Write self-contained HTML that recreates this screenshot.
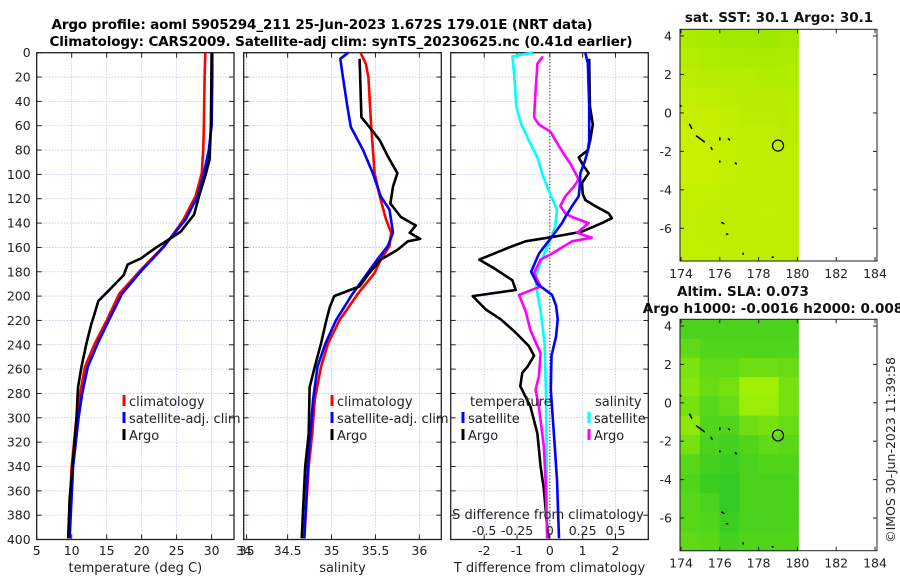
<!DOCTYPE html>
<html><head><meta charset="utf-8"><style>
html,body{margin:0;padding:0;background:#fff}
svg{display:block;font-family:"DejaVu Sans","Liberation Sans",sans-serif}
</style></head><body>
<svg id="fig" width="900" height="580" viewBox="0 0 900 580" xmlns="http://www.w3.org/2000/svg">
<rect width="900" height="580" fill="#fff"/>
<text x="322" y="29" text-anchor="middle" font-size="13.5" font-weight="bold" textLength="541">Argo profile: aoml 5905294_211 25-Jun-2023 1.672S 179.01E (NRT data)</text>
<text x="341" y="46" text-anchor="middle" font-size="13.5" font-weight="bold" textLength="583">Climatology: CARS2009. Satellite-adj clim: synTS_20230625.nc (0.41d earlier)</text>
<g id="layer"></g>
</svg>
<script>
// ---------- data ----------
const depthTicks=[0,20,40,60,80,100,120,140,160,180,200,220,240,260,280,300,320,340,360,380,400];
const tempTicks=[5,10,15,20,25,30,35];
const salTicks=[34.5,35,35.5,36];
const salTickLabels=["34","34.5","35","35.5","36"];
const tdiffTicks=[-2,-1,0,1,2];
const sdiffTickVals=[-0.5,-0.25,0,0.25,0.5];
const sdiffTickLabels=["-0.5","-0.25","0","0.25","0.5"];

const climTDepth=[0,20,60,80,99,118,137,151,160,179,198,220,239,258,280,299,340,399];
const climTVal=[29.1,29.0,28.9,28.8,28.6,27.7,26,24.3,23,19.8,16.8,15,13.3,11.9,11.2,10.7,10,9.5];
const satTDepth=[0,20,60,80,99,118,137,151,160,179,198,220,239,258,280,299,340,399];
const satTVal=[30.1,30.1,30.0,29.6,28.9,28,26.3,24.3,23.1,20.0,17.2,15.3,13.7,12.3,11.5,11.0,10.2,9.7];
const argoTDepth=[0,60,88,99,118,133,147,156,160,169,174,183,196,204,212,223,239,258,275,299,334,367,399];
const argoTVal=[30.0,29.9,29.7,29.2,28.2,27.5,25.6,23.2,22.1,19.9,18.0,17.4,15.2,13.8,13.4,12.8,12.1,11.4,10.9,10.7,10.2,9.7,9.5];

const climSDepth=[0,9,20,58,99,118,137,148,159,170,181,198,220,239,258,285,313,340,399];
const climSVal=[35.33,35.39,35.42,35.45,35.49,35.55,35.62,35.68,35.66,35.56,35.49,35.3,35.09,34.96,34.88,34.81,34.78,34.74,34.69];
const satSDepth=[0,5,20,44,61,80,99,118,129,148,159,170,181,198,220,239,258,285,313,340,399];
const satSVal=[35.19,35.1,35.13,35.18,35.22,35.36,35.47,35.56,35.66,35.7,35.64,35.52,35.41,35.24,35.05,34.93,34.84,34.79,34.76,34.73,34.69];
const argoSDepth=[5,53,61,72,85,99,110,124,135,142,148,153,155,162,170,181,192,200,209,220,239,258,275,313,340,399];
const argoSVal=[35.32,35.34,35.43,35.55,35.64,35.75,35.7,35.67,35.79,35.96,35.89,36.01,35.87,35.75,35.56,35.43,35.32,35.03,34.98,34.94,34.88,34.81,34.75,34.74,34.7,34.66];

const dTSatDepth=[0,9,44,72,80,88,99,110,118,126,135,140,151,165,180,190,199,208,219,233,249,277,324,351,399];
const dTSatVal=[1.08,1.16,1.2,1.2,1.16,1.08,0.93,0.91,0.88,0.68,0.47,0.37,0.07,-0.33,-0.57,-0.38,0.07,0.19,0.24,0.19,0.05,0.03,0.15,0.22,0.28];
const dTArgoDepth=[5,44,59,72,80,86,91,99,107,116,121,126,132,136,140,147,151,155,160,170,178,187,195,200,211,219,230,241,249,258,263,274,291,313,340,359,399];
const dTArgoVal=[1.2,1.22,1.31,1.23,1.16,0.88,0.98,1.18,0.98,1.0,1.08,1.38,1.79,1.89,1.59,0.98,0.17,-0.74,-1.24,-2.15,-1.65,-1.14,-1.04,-2.35,-1.95,-1.5,-1.04,-0.64,-0.48,-0.68,-0.84,-0.9,-0.59,-0.38,-0.28,-0.18,-0.05];
const dSSatDepth=[0,3,20,44,58,72,86,99,113,129,143,153,170,184,198,212,239,277,324,399];
const dSSatVal=[-0.13,-0.285,-0.27,-0.255,-0.22,-0.16,-0.095,-0.06,-0.01,0.055,0.04,0.005,-0.06,-0.11,-0.095,-0.07,-0.04,-0.03,-0.025,-0.02];
const dSArgoDepth=[3,9,31,53,59,65,72,83,91,99,104,110,118,126,132,135,140,148,152,155,165,170,181,192,199,212,228,247,266,277,291,324,351,399];
const dSArgoVal=[-0.053,-0.095,-0.108,-0.12,-0.083,0.005,0.043,0.105,0.155,0.195,0.22,0.183,0.118,0.08,0.118,0.17,0.295,0.208,0.32,0.17,0.018,-0.07,-0.12,-0.07,-0.235,-0.185,-0.148,-0.07,-0.083,-0.108,-0.083,-0.045,-0.033,-0.02];

const lonTicks=[174,176,178,180,182,184];
const latTicks=[4,2,0,-2,-4,-6];
const sstGrid=[
[0.30,0.25,0.15,0.15,0.10,0.20],
[0.45,0.40,0.35,0.30,0.30,0.35],
[0.55,0.50,0.45,0.45,0.40,0.40],
[0.65,0.60,0.55,0.50,0.50,0.45],
[0.70,0.70,0.60,0.55,0.55,0.50],
[0.75,0.70,0.65,0.60,0.60,0.55],
[0.80,0.75,0.65,0.60,0.60,0.60],
[0.75,0.75,0.65,0.60,0.60,0.60],
[0.70,0.65,0.60,0.60,0.60,0.60],
[0.65,0.60,0.60,0.60,0.65,0.60],
[0.65,0.60,0.60,0.60,0.60,0.60],
[0.65,0.65,0.60,0.60,0.60,0.60]];
const slaGrid=[
[0.30,0.30,0.30,0.30,0.30,0.30],
[0.45,0.35,0.35,0.35,0.35,0.35],
[0.65,0.45,0.45,0.55,0.55,0.50],
[0.70,0.50,0.60,0.90,0.90,0.60],
[0.60,0.40,0.50,0.85,0.85,0.60],
[0.75,0.35,0.35,0.55,0.60,0.50],
[0.60,0.30,0.25,0.35,0.45,0.40],
[0.40,0.25,0.20,0.30,0.35,0.35],
[0.35,0.20,0.15,0.30,0.30,0.30],
[0.40,0.30,0.15,0.30,0.30,0.30],
[0.40,0.35,0.20,0.30,0.30,0.30],
[0.45,0.40,0.25,0.35,0.35,0.35]];
const argoLon=179.0, argoLat=-1.7;

// ---------- drawing ----------
const NS="http://www.w3.org/2000/svg";
const L=document.getElementById('layer');
function mk(tag,attrs,parent){const e=document.createElementNS(NS,tag);for(const k in attrs)e.setAttribute(k,attrs[k]);(parent||L).appendChild(e);return e;}
const Y0=52.7,Y1=539.5;
const yD=d=>Y0+(d/400)*(Y1-Y0);
const gridStyle={stroke:"#b8c4e8","stroke-width":0.8,"stroke-dasharray":"1.5,1.5"};

function panel(name,x0,x1,xmin,xmax,xt,xtl,showY,xlabel){
  const xs=v=>x0+(v-xmin)/(xmax-xmin)*(x1-x0);
  const g=mk('g',{});
  
  
  depthTicks.forEach(d=>{
    const gl=mk('line',Object.assign({x1:x0,x2:x1,y1:yD(d),y2:yD(d)},gridStyle),g);
    
    
    mk('line',{x1:x0,x2:x0+5,y1:yD(d),y2:yD(d),stroke:"#222"},g);
    mk('line',{x1:x1-5,x2:x1,y1:yD(d),y2:yD(d),stroke:"#222"},g);
    if(showY){const t=mk('text',{x:x0-6,y:yD(d)+4.5,"text-anchor":"end","font-size":12.5,fill:"#222"},g);t.textContent=d;
      }
  });
  xt.forEach((v,i)=>{
    const X=xs(v);
    const gl=mk('line',Object.assign({x1:X,x2:X,y1:Y0,y2:Y1},gridStyle),g);
    
    
    mk('line',{x1:X,x2:X,y1:Y1-5,y2:Y1,stroke:"#222"},g);
    mk('line',{x1:X,x2:X,y1:Y0,y2:Y0+5,stroke:"#222"},g);
    if(xtl){const t=mk('text',{x:X,y:555,"text-anchor":"middle","font-size":12.5,fill:"#222"},g);t.textContent=xtl[i];
      }
  });
  const fr=mk('rect',{x:x0,y:Y0,width:x1-x0,height:Y1-Y0,fill:"none",stroke:"#222","stroke-width":1.3},g);
  
  if(xlabel){const t=mk('text',{x:(x0+x1)/2,y:572,"text-anchor":"middle","font-size":13,fill:"#222"},g);t.textContent=xlabel;
    }
  return {g,xs};
}
function curve(p,depths,vals,color,name,w,scale){
  const pts=depths.map((d,i)=>p.xs(vals[i]*(scale||1)).toFixed(1)+","+yD(d).toFixed(1)).join(" ");
  const e=mk('polyline',{points:pts,fill:"none",stroke:color,"stroke-width":w||2.6,"stroke-linejoin":"round"},p.g);
  
  
}
function legendEntry(g,x,y,color,label){
  const m=mk('rect',{x:x-1.5,y:y-11,width:3,height:11,fill:color},g);
  
  const t=mk('text',{x:x+5,y:y,"font-size":13,fill:"#222"},g);t.textContent=label;
  
}

// Panel 1 temperature
const p1=panel('temperature-panel',36.7,234,5,33.2,tempTicks,tempTicks.map(String),true,'temperature (deg C)');
curve(p1,climTDepth,climTVal,'#f00','climatology-temperature-line');
curve(p1,satTDepth,satTVal,'#00f','satellite-temperature-line');
curve(p1,argoTDepth,argoTVal,'#000','argo-temperature-line');
legendEntry(p1.g,124,406,'#f00','climatology');
legendEntry(p1.g,124,423,'#00f','satellite-adj. clim');
legendEntry(p1.g,124,440,'#000','Argo');

// Panel 2 salinity
const p2=panel('salinity-panel',243.7,441.3,34,36.25,[34].concat(salTicks),salTickLabels,false,'salinity');
curve(p2,climSDepth,climSVal,'#f00','climatology-salinity-line');
curve(p2,satSDepth,satSVal,'#00f','satellite-salinity-line');
curve(p2,argoSDepth,argoSVal,'#000','argo-salinity-line');
legendEntry(p2.g,332,406,'#f00','climatology');
legendEntry(p2.g,332,423,'#00f','satellite-adj. clim');
legendEntry(p2.g,332,440,'#000','Argo');

// Panel 3 differences
const p3=panel('difference-panel',450.7,648.3,-3.02,3.0,tdiffTicks,tdiffTicks.map(String),false,'T difference from climatology');
const zl=mk('line',{x1:p3.xs(0),x2:p3.xs(0),y1:Y0,y2:Y1,stroke:"#5a4a2a","stroke-width":1.2,"stroke-dasharray":"1.2,2"},p3.g);

curve(p3,dSSatDepth,dSSatVal,'#0ff','salinity-satellite-diff-line',2.6,4);
curve(p3,dTArgoDepth,dTArgoVal,'#000','temperature-argo-diff-line');
curve(p3,dSArgoDepth,dSArgoVal,'#f0f','salinity-argo-diff-line',2.6,4);
curve(p3,dTSatDepth,dTSatVal,'#00f','temperature-satellite-diff-line');
{const t=mk('text',{x:470,y:406,"font-size":13,fill:"#222"},p3.g);t.textContent='temperature';}
{const t=mk('text',{x:595,y:406,"font-size":13,fill:"#222"},p3.g);t.textContent='salinity';}
legendEntry(p3.g,463,423,'#00f','satellite');
legendEntry(p3.g,463,440,'#000','Argo');
legendEntry(p3.g,589,423,'#0ff','satellite');
legendEntry(p3.g,589,440,'#f0f','Argo');
{const t=mk('text',{x:548,y:519,"text-anchor":"middle","font-size":13,fill:"#222"},p3.g);t.textContent='S difference from climatology';}
sdiffTickVals.forEach((v,i)=>{const t=mk('text',{x:p3.xs(v*4),y:535,"text-anchor":"middle","font-size":12.5,fill:"#222"},p3.g);t.textContent=sdiffTickLabels[i];
  });

// ---------- maps ----------
function lerp(a,b,t){return Math.round(a+(b-a)*t);}
function map(name,top,bot,lat4y,latm6y,grid,c0,c1,title,titleY){
  const ax0=680,ax1=877;
  const lonX=lon=>681+(lon-174)*19.4;
  const latY=lat=>lat4y+(4-lat)*(latm6y-lat4y)/10;
  const g=mk('g',{});
  
  
  const rows=grid.length,cols=grid[0].length;
  const latTop=4-(top-lat4y)/((latm6y-lat4y)/10), latBot=4-(bot-lat4y)/((latm6y-lat4y)/10);
  const lonL=173.95,lonR=180.05;
  for(let r=0;r<rows;r++)for(let c=0;c<cols;c++){
    const la0=latTop+(latBot-latTop)*r/rows, la1=latTop+(latBot-latTop)*(r+1)/rows;
    const lo0=lonL+(lonR-lonL)*c/cols, lo1=lonL+(lonR-lonL)*(c+1)/cols;
    const v=grid[r][c];
    const col=`rgb(${lerp(c0[0],c1[0],v)},${lerp(c0[1],c1[1],v)},${lerp(c0[2],c1[2],v)})`;
    const x=lonX(lo0),y=latY(la0);
    const cell=mk('rect',{x:x.toFixed(1),y:y.toFixed(1),width:(lonX(lo1)-x+0.6).toFixed(1),height:(latY(la1)-y+0.6).toFixed(1),fill:col},g);
    
    
  }
  // coastline fragments (islands)
  [[174.45,-0.6,174.55,-0.8],[174.8,-1.2,175.2,-1.5],[175.55,-1.8,175.6,-1.9],[176.0,-1.3,176.0,-1.4],[176.45,-1.35,176.5,-1.4],[176.0,-2.5,176.0,-2.55],[176.8,-2.6,176.85,-2.65],[176.1,-5.7,176.2,-5.75],[176.35,-6.3,176.4,-6.3],[177.2,-7.3,177.2,-7.35],[178.7,-7.5,178.75,-7.5],[173.95,0.4,174.0,0.35]].forEach(s=>{
    const e=mk('line',{x1:lonX(s[0]),y1:latY(s[1]),x2:lonX(s[2]),y2:latY(s[3]),stroke:"#000","stroke-width":1.6,"stroke-linecap":"round"},g);
    
  });
  const circ=mk('circle',{cx:lonX(argoLon),cy:latY(argoLat),r:5.5,fill:"none",stroke:"#000","stroke-width":1.2},g);
  
  const fr=mk('rect',{x:ax0,y:top,width:ax1-ax0,height:bot-top,fill:"none",stroke:"#222","stroke-width":1},g);
  
  lonTicks.forEach(lo=>{const X=lonX(lo);
    mk('line',{x1:X,x2:X,y1:bot,y2:bot-4,stroke:"#222"},g);mk('line',{x1:X,x2:X,y1:top,y2:top+4,stroke:"#222"},g);
    const t=mk('text',{x:X,y:bot+17,"text-anchor":"middle","font-size":12.5,fill:"#222"},g);t.textContent=lo;
    });
  latTicks.forEach(la=>{const Y=latY(la);
    mk('line',{x1:ax0,x2:ax0+4,y1:Y,y2:Y,stroke:"#222"},g);mk('line',{x1:ax1,x2:ax1-4,y1:Y,y2:Y,stroke:"#222"},g);
    const t=mk('text',{x:ax0-8,y:Y+4.5,"text-anchor":"end","font-size":12.5,fill:"#222"},g);t.textContent=la;
    });
  title.forEach((tt,i)=>{const t=mk('text',{x:tt[1],y:titleY[i],"text-anchor":tt[2],"font-size":13.5,"font-weight":"bold",fill:"#111"},g);t.textContent=tt[0];
    });
}
map('sst-map',29.3,261,36,228.3,sstGrid,[150,232,0],[216,242,0],[["sat. SST: 30.1 Argo: 30.1",779,"middle"]],[22]);
map('sla-map',319.3,550.7,326,518,slaGrid,[30,196,40],[176,244,0],[["Altim. SLA: 0.073",677,"start"],["Argo h1000: -0.0016 h2000: 0.008",773,"middle"]],[296,313]);
{const t=mk('text',{x:0,y:0,"font-size":12.5,fill:"#222",transform:"translate(895,450) rotate(-90)","text-anchor":"middle"});t.textContent='©IMOS 30-Jun-2023 11:39:58';
 }
</script>
</body></html>
